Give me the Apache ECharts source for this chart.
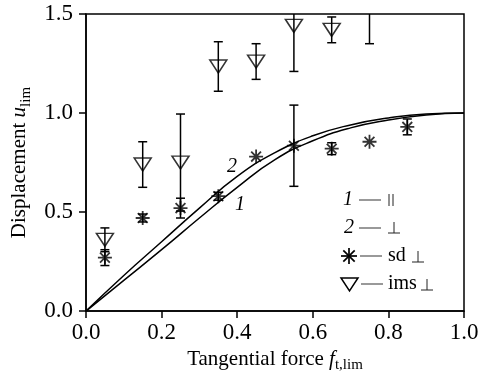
<!DOCTYPE html>
<html>
<head>
<meta charset="utf-8">
<script src="https://cdn.jsdelivr.net/npm/echarts@6/dist/echarts.min.js"></script>
<style>
  html, body { margin: 0; padding: 0; background: #fff; }
  #chart { width: 487px; height: 378px; }
</style>
</head>
<body>
<div id="chart"></div>
<script>
// theory curves 1 (parallel) and 2 (perpendicular)
const curveF = [0, 0.1, 0.2, 0.3, 0.4, 0.5, 0.6, 0.7, 0.8, 0.9, 1.0];
const curve1 = [0, 0.155, 0.31, 0.47, 0.625, 0.765, 0.86, 0.925, 0.965, 0.99, 1.0];
const curve2 = [0, 0.18, 0.35, 0.52, 0.68, 0.80, 0.885, 0.94, 0.975, 0.995, 1.0];

// sd measurements (asterisks)
const sdF = [0.05, 0.15, 0.25, 0.35, 0.45, 0.55, 0.65, 0.75, 0.85];
const sdVals = [0.27, 0.47, 0.52, 0.58, 0.78, 0.835, 0.82, 0.855, 0.93];
const sdErr = [0.04, 0.02, 0.05, 0.02, 0, 0.205, 0.03, 0, 0.04];

// ims measurements (triangles)
const imsF = [0.05, 0.15, 0.25, 0.35, 0.45, 0.55, 0.65, 0.75];
const imsVals = [0.36, 0.74, 0.75, 1.235, 1.26, 1.44, 1.42, 1.6];
const imsErr = [0.06, 0.115, 0.245, 0.125, 0.09, 0.23, 0.065, 0.25];

const FONT = 'Liberation Serif';
const starPath = 'path://M10,0L10,20M0,10L20,10M3,3L17,17M3,17L17,3';

function errData(xs, vs, es) {
  const out = [];
  xs.forEach((x, i) => {
    if (es[i] > 0) out.push([x, vs[i] - es[i], vs[i] + es[i]]);
  });
  return out;
}

function renderErr(params, api) {
  const x = api.value(0);
  const lo = api.coord([x, api.value(1)]);
  const hi = api.coord([x, api.value(2)]);
  const w = 4.5;
  const st = { stroke: '#000', lineWidth: 1.5 };
  return {
    type: 'group',
    children: [
      { type: 'line', shape: { x1: lo[0], y1: lo[1], x2: hi[0], y2: hi[1] }, style: st },
      { type: 'line', shape: { x1: lo[0] - w, y1: lo[1], x2: lo[0] + w, y2: lo[1] }, style: st },
      { type: 'line', shape: { x1: hi[0] - w, y1: hi[1], x2: hi[0] + w, y2: hi[1] }, style: st }
    ]
  };
}

const chart = echarts.init(document.getElementById('chart'));

const dashStyle = { stroke: '#777', lineWidth: 1.5 };
const legendText = (x, y, text, italic, size) => ({
  type: 'text', x: x, y: y,
  style: { text: text, font: (italic ? 'italic ' : '') + (size || 20) + 'px ' + FONT, fill: '#000', verticalAlign: 'middle' }
});
const dash = (x1, x2, y) => ({ type: 'line', shape: { x1: x1, y1: y, x2: x2, y2: y }, style: dashStyle });
const seg = (x1, y1, x2, y2, w, c) => ({
  type: 'line', shape: { x1: x1, y1: y1, x2: x2, y2: y2 },
  style: { stroke: c || '#000', lineWidth: w || 1.7 }
});
const perp = (x, y) => ({
  type: 'group', x: x, y: y,
  children: [seg(0, 0, 12, 0, 1, '#222'), seg(6, 0, 6, -11, 1, '#222')]
});

const nameRich = {
  n: { fontFamily: FONT, fontSize: 21, color: '#000', lineHeight: 24, verticalAlign: 'top' },
  i: { fontFamily: FONT, fontSize: 21, fontStyle: 'italic', color: '#000', lineHeight: 24, verticalAlign: 'top' },
  s: { fontFamily: FONT, fontSize: 15, color: '#000', lineHeight: 15, verticalAlign: 'bottom' }
};

// legend offset
const LX = 8;

chart.setOption({
  animation: false,
  grid: { left: 86, right: 23, top: 14, bottom: 66, show: true, borderColor: '#000', borderWidth: 1.5 },
  xAxis: {
    type: 'value', min: 0, max: 1, interval: 0.2,
    splitLine: { show: false },
    axisLine: { lineStyle: { color: '#000', width: 1.5 } },
    axisTick: { length: 7, lineStyle: { color: '#000', width: 1.5 } },
    axisLabel: { color: '#000', fontFamily: FONT, fontSize: 23, margin: 10, formatter: v => v.toFixed(1) },
    name: '{n|Tangential force }{i|f}{s|t,lim}',
    nameLocation: 'middle', nameGap: 34,
    nameTextStyle: { rich: nameRich }
  },
  yAxis: {
    type: 'value', min: 0, max: 1.5, interval: 0.5,
    splitLine: { show: false },
    axisLine: { lineStyle: { color: '#000', width: 1.5 } },
    axisTick: { length: 7, lineStyle: { color: '#000', width: 1.5 } },
    axisLabel: { color: '#000', fontFamily: FONT, fontSize: 23, margin: 13, formatter: v => v.toFixed(1) },
    name: '{n|Displacement }{i|u}{s|lim}',
    nameLocation: 'middle', nameGap: 49, nameRotate: 90,
    nameTextStyle: { rich: nameRich }
  },
  series: [
    {
      name: '1', type: 'line', smooth: true, symbol: 'none',
      lineStyle: { color: '#000', width: 1.5 },
      data: curveF.map((f, i) => [f, curve1[i]])
    },
    {
      name: '2', type: 'line', smooth: true, symbol: 'none',
      lineStyle: { color: '#000', width: 1.5 },
      data: curveF.map((f, i) => [f, curve2[i]])
    },
    {
      name: 'ims err', type: 'custom', clip: true, renderItem: renderErr,
      data: errData(imsF, imsVals, imsErr)
    },
    {
      name: 'sd err', type: 'custom', clip: true, renderItem: renderErr,
      data: errData(sdF, sdVals, sdErr)
    },
    {
      name: 'ims ⊥', type: 'scatter', clip: true,
      symbol: 'triangle', symbolRotate: 180, symbolSize: [17, 13],
      itemStyle: { color: 'rgba(0,0,0,0)', borderColor: '#000', borderWidth: 1.5 },
      data: imsF.map((f, i) => [f, imsVals[i]])
    },
    {
      name: 'sd ⊥', type: 'scatter', clip: true,
      symbol: starPath, symbolSize: 14,
      itemStyle: { color: '#000', borderColor: '#000', borderWidth: 1.8 },
      data: sdF.map((f, i) => [f, sdVals[i]])
    }
  ],
  graphic: [
    // curve labels
    legendText(227, 167, '2', true),
    legendText(235, 205, '1', true),
    // legend
    legendText(335 + LX, 200, '1', true), dash(351 + LX, 373 + LX, 200),
    seg(381 + LX, 194, 381 + LX, 206, 1, '#222'), seg(385 + LX, 194, 385 + LX, 206, 1, '#222'),
    legendText(336 + LX, 228, '2', true), dash(351 + LX, 373 + LX, 228), perp(380 + LX, 233),
    {
      type: 'group', x: 333 + LX, y: 248,
      children: [seg(8, 0, 8, 16), seg(0, 8, 16, 8), seg(2.3, 2.3, 13.7, 13.7), seg(2.3, 13.7, 13.7, 2.3)]
    },
    dash(352 + LX, 374 + LX, 256), legendText(380 + LX, 256, 'sd', false), perp(404 + LX, 262),
    {
      type: 'polygon',
      shape: { points: [[333 + LX, 278], [350 + LX, 278], [341.5 + LX, 291]] },
      style: { stroke: '#000', lineWidth: 1.5, fill: null }
    },
    dash(353 + LX, 375 + LX, 284), legendText(380 + LX, 284, 'ims', false), perp(413 + LX, 290)
  ]
});
</script>
</body>
</html>
